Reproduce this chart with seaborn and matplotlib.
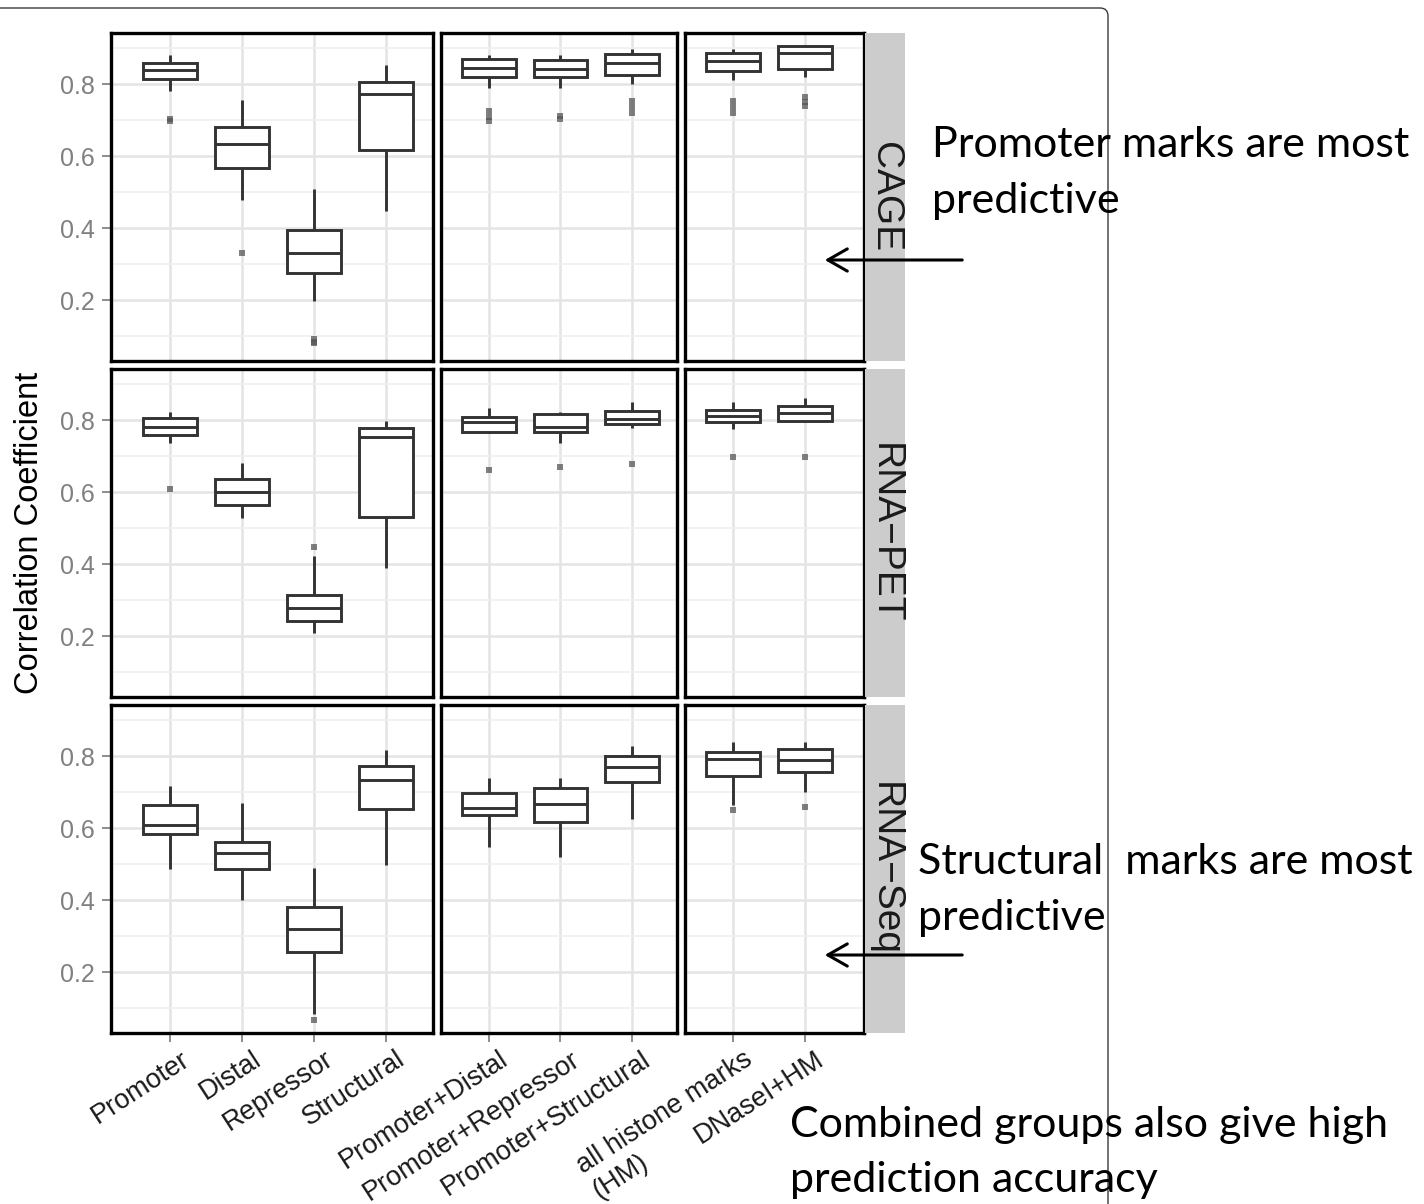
import numpy as np
import pandas as pd
import matplotlib
matplotlib.use("Agg")
import matplotlib.pyplot as plt
import seaborn as sns
from matplotlib.path import Path
from matplotlib.patches import PathPatch, FancyArrowPatch
from matplotlib.ticker import FixedLocator
from matplotlib.transforms import ScaledTranslation

sns.set_theme(style="white")
plt.rcParams["font.family"] = ["Liberation Sans", "DejaVu Sans"]

# ---------------------------------------------------------------- data
responses = ["CAGE", "RNA\u2212PET", "RNA\u2212Seq"]
feature_groups = [
    ["Promoter", "Distal", "Repressor", "Structural"],
    ["Promoter+Distal", "Promoter+Repressor", "Promoter+Structural"],
    ["all histone marks\n(HM)", "DNaseI+HM"],
]
features = [f for grp in feature_groups for f in grp]

# box summaries per response, in the order of `features`
cage_lo  = [0.781, 0.478, 0.198, 0.448, 0.791, 0.791, 0.800, 0.811, 0.820]
cage_q1  = [0.814, 0.569, 0.275, 0.618, 0.821, 0.821, 0.825, 0.837, 0.844]
cage_med = [0.840, 0.633, 0.330, 0.772, 0.846, 0.844, 0.860, 0.865, 0.888]
cage_q3  = [0.860, 0.683, 0.394, 0.806, 0.871, 0.869, 0.885, 0.886, 0.906]
cage_hi  = [0.881, 0.758, 0.508, 0.853, 0.881, 0.881, 0.899, 0.899, 0.906]
cage_out = [[0.703, 0.699], [0.331], [0.092, 0.085, 0.080], [],
            [0.725, 0.710, 0.698], [0.712, 0.703], [0.755, 0.738, 0.720],
            [0.755, 0.738, 0.720], [0.765, 0.752, 0.740]]

pet_lo  = [0.738, 0.528, 0.209, 0.389, 0.766, 0.738, 0.778, 0.776, 0.795]
pet_q1  = [0.760, 0.565, 0.241, 0.531, 0.769, 0.769, 0.789, 0.797, 0.799]
pet_med = [0.783, 0.601, 0.278, 0.753, 0.797, 0.783, 0.803, 0.812, 0.820]
pet_q3  = [0.808, 0.637, 0.315, 0.778, 0.809, 0.817, 0.826, 0.829, 0.841]
pet_hi  = [0.824, 0.681, 0.422, 0.799, 0.834, 0.823, 0.852, 0.852, 0.862]
pet_out = [[0.609], [], [0.449], [], [0.662], [0.670], [0.679], [0.699], [0.699]]

seq_lo  = [0.488, 0.400, 0.085, 0.499, 0.548, 0.519, 0.627, 0.666, 0.701]
seq_q1  = [0.583, 0.486, 0.256, 0.655, 0.638, 0.619, 0.728, 0.746, 0.756]
seq_med = [0.608, 0.531, 0.319, 0.735, 0.656, 0.669, 0.770, 0.794, 0.791]
seq_q3  = [0.666, 0.562, 0.380, 0.773, 0.698, 0.712, 0.801, 0.812, 0.821]
seq_hi  = [0.719, 0.670, 0.490, 0.819, 0.741, 0.741, 0.829, 0.840, 0.840]
seq_out = [[], [], [0.068], [], [], [], [], [0.650], [0.659]]

summaries = {
    "CAGE": (cage_lo, cage_q1, cage_med, cage_q3, cage_hi, cage_out),
    "RNA\u2212PET": (pet_lo, pet_q1, pet_med, pet_q3, pet_hi, pet_out),
    "RNA\u2212Seq": (seq_lo, seq_q1, seq_med, seq_q3, seq_hi, seq_out),
}

# long tables: each box is a small sample whose quartiles equal the summary
box_rows, out_rows = [], []
for resp, (lo, q1, med, q3, hi, outs) in summaries.items():
    for i, feat in enumerate(features):
        for v in (lo[i], q1[i], q1[i], med[i], q3[i], q3[i], hi[i]):
            box_rows.append((resp, feat, v))
        for v in outs[i]:
            out_rows.append((resp, feat, v))
box_df = pd.DataFrame(box_rows, columns=["response", "feature", "value"])
out_df = pd.DataFrame(out_rows, columns=["response", "feature", "value"])

# ---------------------------------------------------------------- layout
W, H = 1424, 1204
fig = plt.figure(figsize=(W / 100, H / 100), dpi=100)
fig.patch.set_facecolor("white")


def px_axes(x0, y0, x1, y1):
    return fig.add_axes([x0 / W, 1 - y1 / H, (x1 - x0) / W, (y1 - y0) / H])


def fx(x):
    return x / W


def fy(y):
    return 1 - y / H


col_px = [(111, 433), (441, 677), (685, 864)]
row_px = [(33, 361), (369, 697), (705, 1033)]
col_xlim = [(-0.82, 3.65), (-0.67, 2.63), (-0.67, 1.82)]
ylim = (0.031, 0.943)

box_line = "#333333"
for r, resp in enumerate(responses):
    y0, y1 = row_px[r]
    for c, feats in enumerate(feature_groups):
        x0, x1 = col_px[c]
        ax = px_axes(x0, y0, x1, y1)
        ax.set_facecolor("white")
        ax.set_axisbelow(True)
        sub = box_df[(box_df.response == resp) & (box_df.feature.isin(feats))]
        sns.boxplot(data=sub, x="feature", y="value", order=feats, ax=ax,
                    whis=(0, 100), width=0.75, color="white",
                    linecolor=box_line, linewidth=2.1, showfliers=False,
                    showcaps=False, saturation=1)
        osub = out_df[(out_df.response == resp) & (out_df.feature.isin(feats))]
        if len(osub):
            sns.stripplot(data=osub, x="feature", y="value", order=feats,
                          ax=ax, jitter=False, marker="s", size=4.5,
                          color="#555555", alpha=0.75, linewidth=0,
                          zorder=4)
        ax.set_xlim(*col_xlim[c])
        ax.set_ylim(*ylim)
        ax.set_xlabel("")
        ax.set_ylabel("")

        ax.yaxis.set_major_locator(FixedLocator([0.2, 0.4, 0.6, 0.8]))
        ax.yaxis.set_minor_locator(FixedLocator([0.1, 0.3, 0.5, 0.7, 0.9]))
        ax.grid(which="major", axis="both", color="#E4E4E4", lw=1.8)
        ax.grid(which="minor", axis="y", color="#F0F0F0", lw=1.2)
        ax.tick_params(which="minor", left=False, bottom=False)

        for sp in ax.spines.values():
            sp.set_visible(True)
            sp.set_color("black")
            sp.set_linewidth(2.4)

        ax.tick_params(axis="y", which="major", length=6.5, width=1.4,
                       color="#8C8C8C", labelsize=18, labelcolor="#808080",
                       pad=5, left=(c == 0), labelleft=(c == 0))
        if c == 0:
            ax.set_yticklabels(["0.2", "0.4", "0.6", "0.8"])
        ax.tick_params(axis="x", which="major", length=6.5, width=1.4,
                       color="#8C8C8C", labelsize=19.5, labelcolor="#1A1A1A",
                       pad=3, bottom=(r == 2), labelbottom=(r == 2))
        if r == 2:
            ax.set_xticks(range(len(feats)))
            labels = ax.set_xticklabels(feats, rotation=33, ha="right",
                                        rotation_mode="anchor")
            shift = ScaledTranslation(7 / 72, 0, fig.dpi_scale_trans)
            for lab in labels:
                lab.set_transform(lab.get_transform() + shift)
                if "\n" in lab.get_text():
                    lab.set_multialignment("left")

    # facet strip on the right
    sax = px_axes(865, y0, 905, y1)
    sax.set_facecolor("#CCCCCC")
    sax.set_xticks([])
    sax.set_yticks([])
    for sp in sax.spines.values():
        sp.set_visible(False)
    sax.text(0.5, 0.5, resp, rotation=-90, ha="center", va="center",
             fontsize=28, color="#1A1A1A", transform=sax.transAxes)

fig.text(fx(30), fy(533), "Correlation Coefficient", rotation=90,
         ha="center", va="center", fontsize=23.5, color="black")

# slide frame around the figure
frame = Path([(fx(-5), fy(8)), (fx(1100), fy(8)), (fx(1108), fy(8)),
              (fx(1108), fy(16)), (fx(1108), fy(1210))],
             [Path.MOVETO, Path.LINETO, Path.CURVE3, Path.CURVE3, Path.LINETO])
fig.add_artist(PathPatch(frame, transform=fig.transFigure, fill=False,
                         edgecolor="#3A3A3A", lw=1.0, zorder=6))

# callouts
note_font = ["Lato", "DejaVu Sans"]
note_size = 31
notes = [
    (932, 157, "Promoter marks are most"),
    (932, 213, "predictive"),
    (918, 874, "Structural  marks are most"),
    (918, 930, "predictive"),
    (790, 1137, "Combined groups also give high"),
    (790, 1192, "prediction accuracy"),
]
for x, y, s in notes:
    fig.text(fx(x), fy(y), s, ha="left", va="baseline", fontsize=note_size,
             family=note_font, color="black", zorder=7)

for y in (260, 955):
    fig.add_artist(FancyArrowPatch((fx(965), fy(y)), (fx(822), fy(y)),
                                   transform=fig.transFigure,
                                   arrowstyle="->,head_length=0.7,head_width=0.4",
                                   mutation_scale=20, lw=2.2, color="black",
                                   zorder=8))

fig.savefig("out.png", dpi=100, facecolor="white")
